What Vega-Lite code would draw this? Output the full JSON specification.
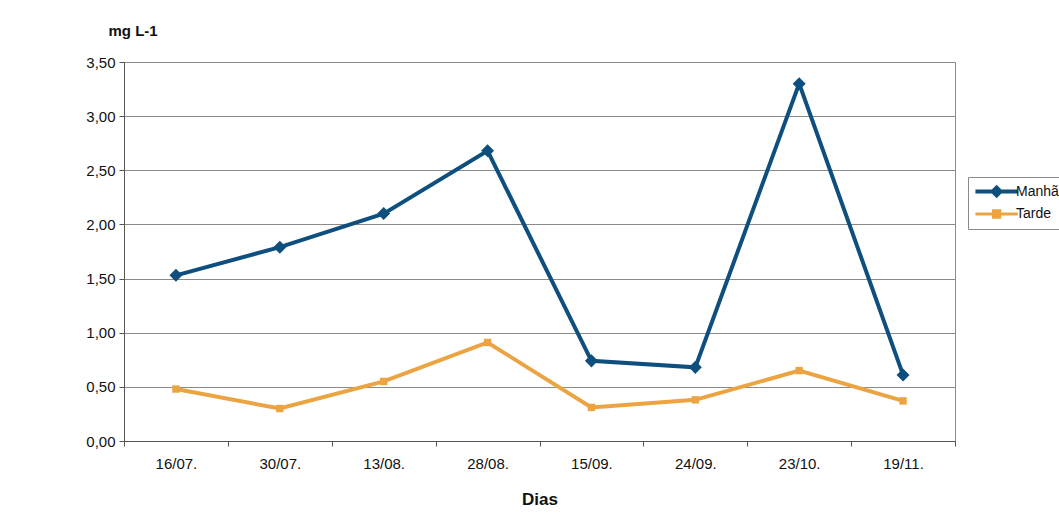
{
  "$schema": "https://vega.github.io/schema/vega-lite/v6.json",
  "autosize": "none",
  "width": 831,
  "height": 379,
  "padding": {"left": 124, "top": 62, "right": 104, "bottom": 90},
  "background": "white",
  "config": {
    "font": "Liberation Sans",
    "view": {"stroke": "#8a8a8a", "strokeWidth": 1}
  },
  "data": {
    "values": [
      {"dia": "16/07.", "serie": "Manhã", "v": 1.53},
      {"dia": "30/07.", "serie": "Manhã", "v": 1.79},
      {"dia": "13/08.", "serie": "Manhã", "v": 2.10},
      {"dia": "28/08.", "serie": "Manhã", "v": 2.68},
      {"dia": "15/09.", "serie": "Manhã", "v": 0.74},
      {"dia": "24/09.", "serie": "Manhã", "v": 0.68},
      {"dia": "23/10.", "serie": "Manhã", "v": 3.30},
      {"dia": "19/11.", "serie": "Manhã", "v": 0.61},
      {"dia": "16/07.", "serie": "Tarde", "v": 0.48},
      {"dia": "30/07.", "serie": "Tarde", "v": 0.30},
      {"dia": "13/08.", "serie": "Tarde", "v": 0.55},
      {"dia": "28/08.", "serie": "Tarde", "v": 0.91},
      {"dia": "15/09.", "serie": "Tarde", "v": 0.31},
      {"dia": "24/09.", "serie": "Tarde", "v": 0.38},
      {"dia": "23/10.", "serie": "Tarde", "v": 0.65},
      {"dia": "19/11.", "serie": "Tarde", "v": 0.37}
    ]
  },
  "encoding": {
    "x": {
      "field": "dia", "type": "ordinal", "sort": null,
      "scale": {"paddingInner": 0, "paddingOuter": 0},
      "axis": {
        "title": "Dias", "titleFontSize": 17, "titleFontWeight": "bold", "titleColor": "#111",
        "titlePadding": 20,
        "labelAngle": 0, "labelFontSize": 15, "labelColor": "#111", "labelPadding": 10,
        "tickBand": "extent", "tickSize": 5, "tickColor": "#555", "domainColor": "#555",
        "grid": false
      }
    },
    "y": {
      "field": "v", "type": "quantitative",
      "scale": {"domain": [0, 3.5]},
      "axis": {
        "title": "mg L-1", "titleAngle": 0, "titleAlign": "left", "titleBaseline": "middle",
        "titleX": -16, "titleY": -32, "titleFontSize": 15, "titleFontWeight": "bold", "titleColor": "#111",
        "values": [0, 0.5, 1, 1.5, 2, 2.5, 3, 3.5],
        "labelExpr": "replace(format(datum.value, '.2f'), '.', ',')",
        "labelFontSize": 15, "labelColor": "#111", "labelPadding": 4,
        "tickSize": 5, "tickColor": "#555", "domainColor": "#555",
        "gridColor": "#8a8a8a", "gridOpacity": 1
      }
    },
    "color": {
      "field": "serie", "type": "nominal",
      "scale": {"domain": ["Manhã", "Tarde"], "range": ["#0f4f7e", "#eba441"]},
      "legend": {
        "title": null, "orient": "none", "legendX": 844, "legendY": 115,
        "labelFontSize": 14, "labelColor": "#111", "labelOffset": 24,
        "strokeColor": "#8a8a8a", "fillColor": "white", "padding": 5,
        "symbolSize": 200, "symbolStrokeWidth": 3, "rowPadding": 0,
        "encode": {
          "symbols": {
            "update": {
              "shape": {"signal": "datum.value === 'Manhã' ? 'M-1,0H5M1.45,0L2,-0.55L2.55,0L2,0.55Z' : 'M-1,0H5M1.55,-0.45H2.45V0.45H1.55Z'"},
              "fill": {"signal": "datum.value === 'Manhã' ? '#0f4f7e' : '#eba441'"},
              "stroke": {"signal": "datum.value === 'Manhã' ? '#0f4f7e' : '#eba441'"},
              "strokeWidth": {"value": 3},
              "fillOpacity": {"value": 1},
              "opacity": {"value": 1}
            }
          }
        }
      }
    }
  },
  "layer": [
    {
      "mark": {"type": "line", "strokeWidth": 4},
      "encoding": {
        "strokeWidth": {
          "field": "serie", "type": "nominal",
          "scale": {"domain": ["Manhã", "Tarde"], "range": [4, 3]}, "legend": null
        }
      }
    },
    {
      "transform": [{"filter": "datum.serie === 'Manhã'"}],
      "mark": {"type": "point", "filled": true, "opacity": 1, "shape": "diamond", "size": 170}
    },
    {
      "transform": [{"filter": "datum.serie === 'Tarde'"}],
      "mark": {"type": "point", "filled": true, "opacity": 1, "shape": "square", "size": 55}
    }
  ]
}
